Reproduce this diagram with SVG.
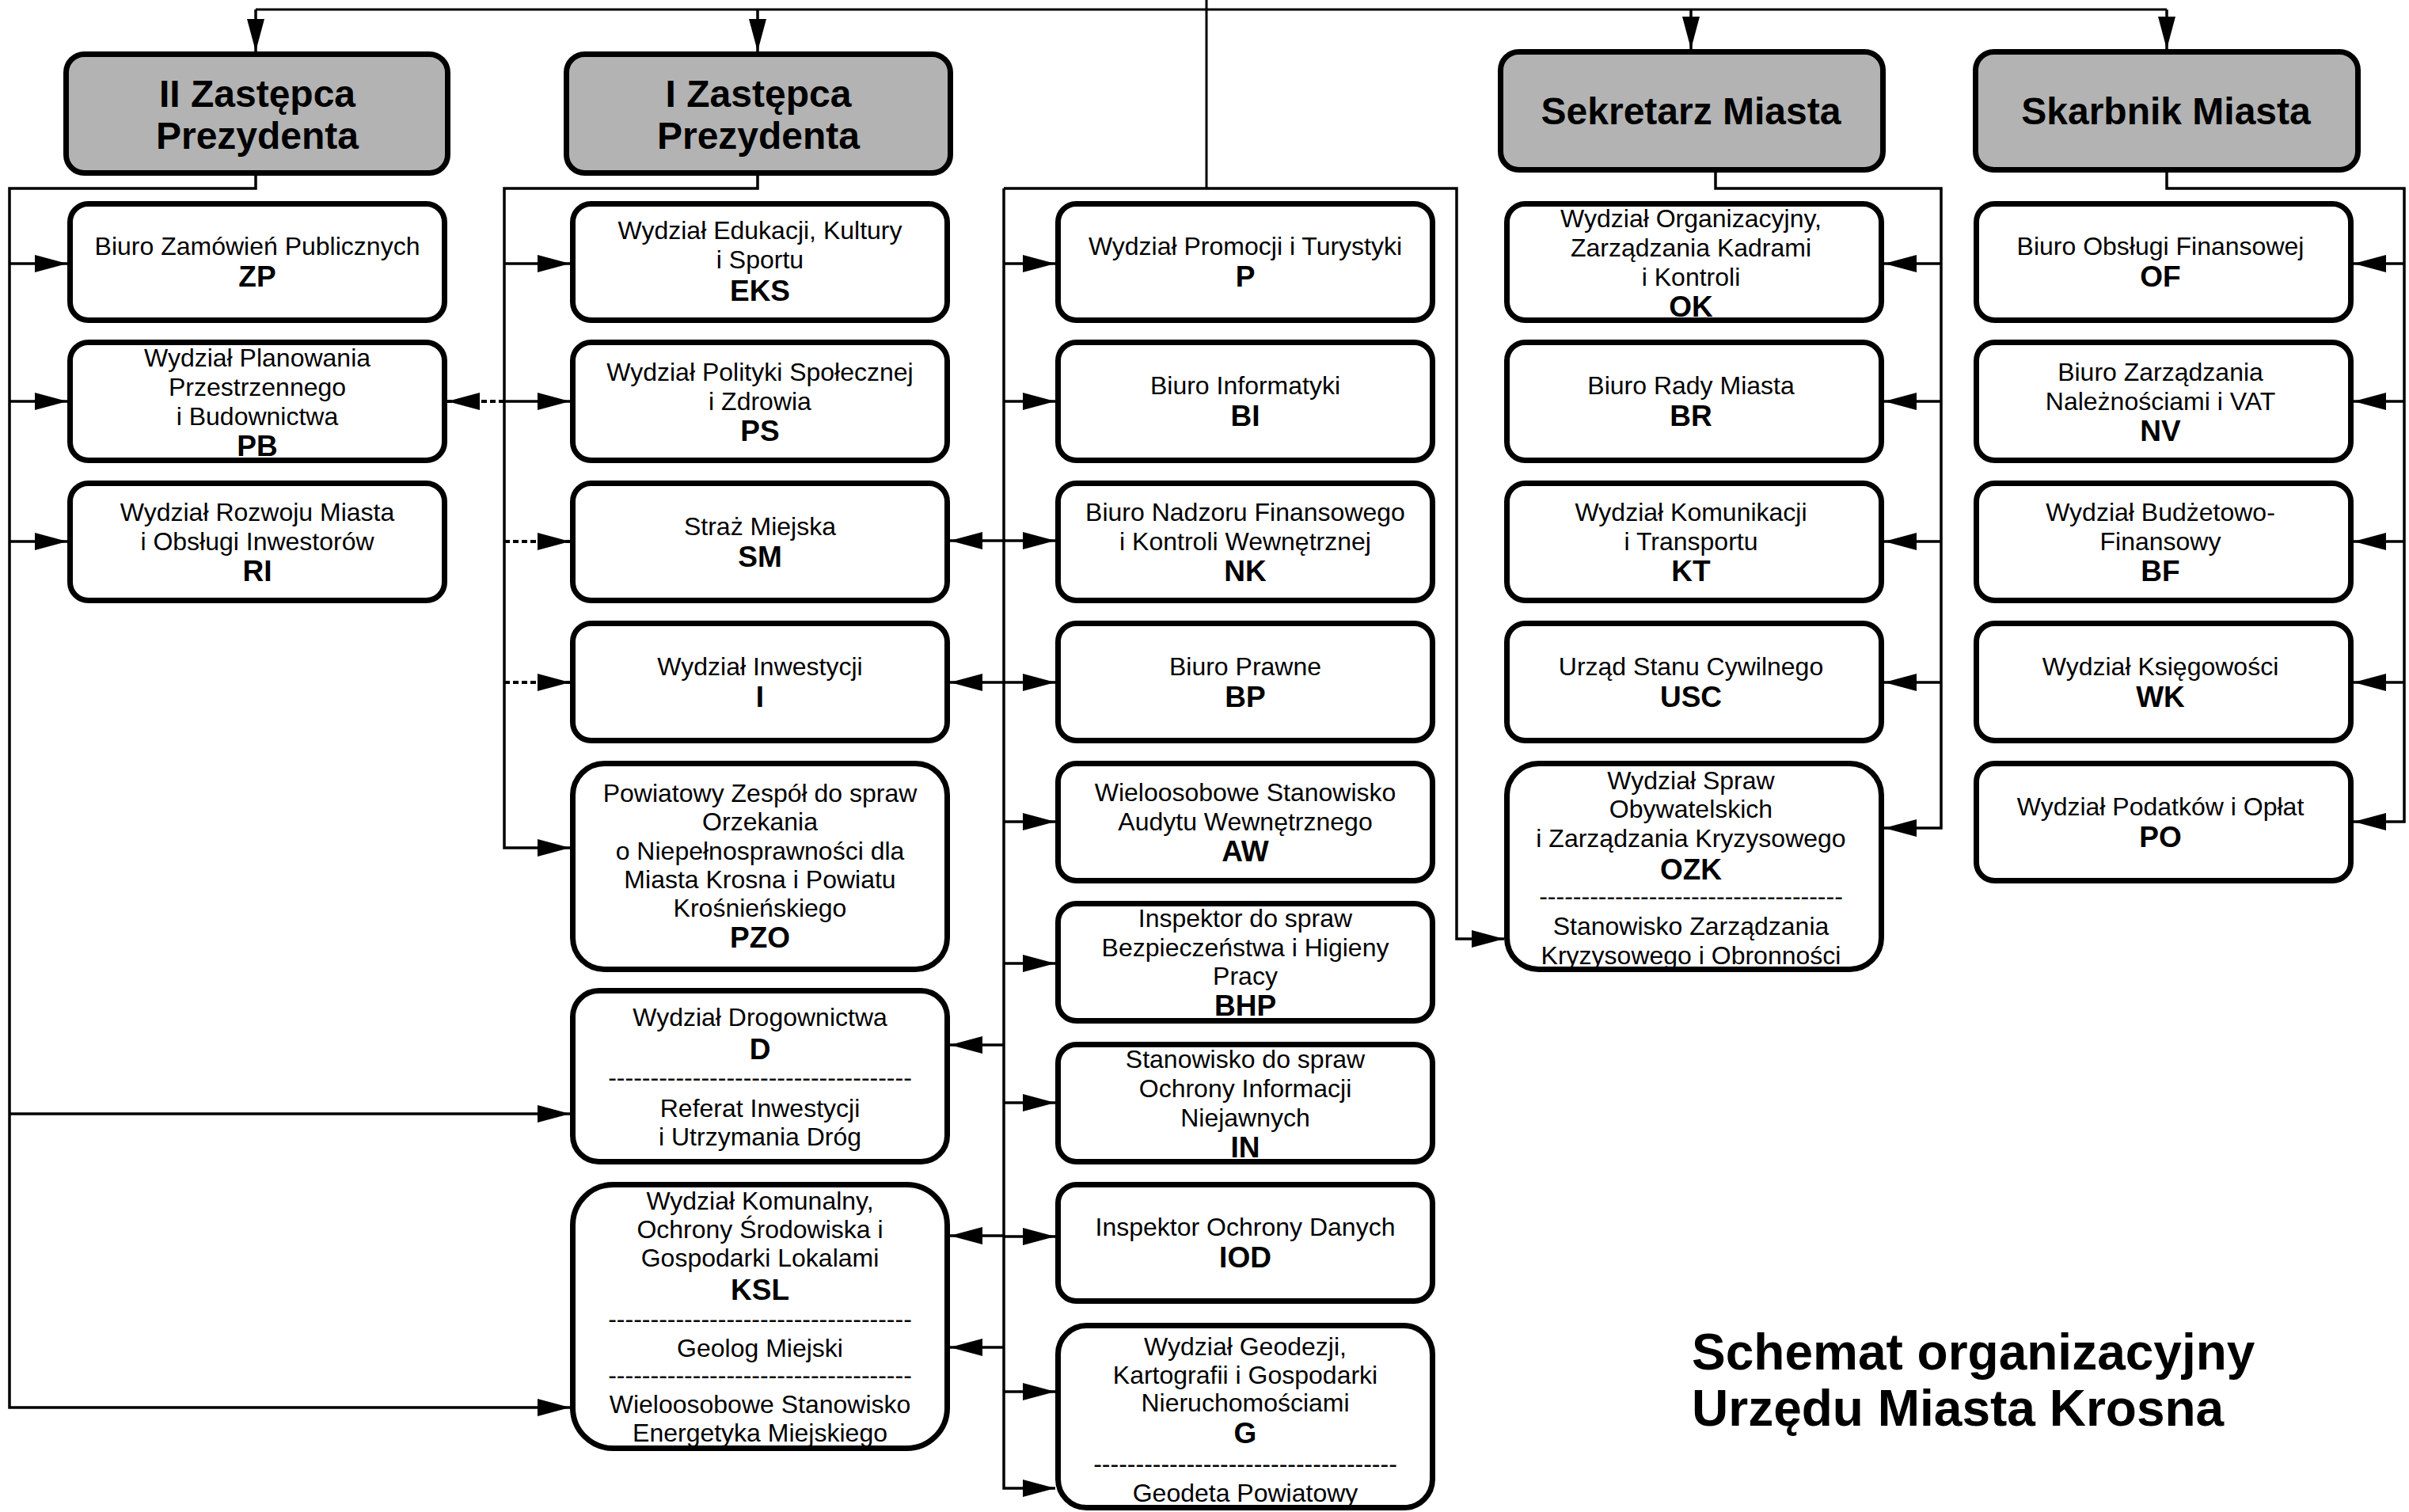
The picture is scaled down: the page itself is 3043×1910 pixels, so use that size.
<svg xmlns="http://www.w3.org/2000/svg" width="3043" height="1910" viewBox="0 0 3043 1910">
<defs>
<style>
.bx{fill:#fff;stroke:#000;stroke-width:7}
.hd{fill:#b3b3b3;stroke:#000;stroke-width:7}
.c{fill:none;stroke:#000;stroke-width:3}
.a{fill:none;stroke:#000;stroke-width:3.5;marker-end:url(#ah)}
.d{fill:none;stroke:#000;stroke-width:4;stroke-dasharray:7 4;marker-end:url(#ah)}
text{font-family:"Liberation Sans",Arial,sans-serif;fill:#000;text-anchor:middle}
.t{font-size:32px}
.b{font-size:37px;font-weight:bold}
.h{font-size:48px;font-weight:bold}
.ti{font-size:64px;font-weight:bold;text-anchor:start}
</style>
<marker id="ah" viewBox="0 0 41 22" refX="41" refY="11" markerWidth="41" markerHeight="22" markerUnits="userSpaceOnUse" orient="auto"><path d="M0,0 L41,11 L0,22 z" fill="#000"/></marker>
</defs>
<rect width="3043" height="1910" fill="#fff"/>

<g id="connectors">
<path class="c" d="M323,12 H2737"/>
<path class="a" d="M323,12 V65"/>
<path class="a" d="M957,12 V65"/>
<path class="a" d="M2136,12 V62"/>
<path class="a" d="M2737,12 V62"/>
<path class="c" d="M1524,0 V238"/>
<!-- II Zastepca -->
<path class="a" d="M323,222 V238 H12 V1778 H720"/>
<path class="a" d="M12,333 H85"/>
<path class="a" d="M12,507 H85"/>
<path class="a" d="M12,684 H85"/>
<path class="a" d="M12,1407 H720"/>
<!-- I Zastepca -->
<path class="a" d="M957,222 V238 H637 V1071 H720"/>
<path class="a" d="M637,333 H720"/>
<path class="a" d="M637,507 H720"/>
<path class="d" d="M637,507 H565"/>
<path class="d" d="M637,684 H720"/>
<path class="d" d="M637,862 H720"/>
<!-- middle -->
<path class="a" d="M1268,238 H1840 V1186 H1900"/>
<path class="a" d="M1268,238 V1880 H1333"/>
<path class="a" d="M1268,333 H1333"/>
<path class="a" d="M1268,507 H1333"/>
<path class="a" d="M1268,683 H1333"/>
<path class="a" d="M1268,862 H1333"/>
<path class="a" d="M1268,1038 H1333"/>
<path class="a" d="M1268,1217 H1333"/>
<path class="a" d="M1268,1393 H1333"/>
<path class="a" d="M1268,1562 H1333"/>
<path class="a" d="M1268,1758 H1333"/>
<path class="a" d="M1268,683 H1200"/>
<path class="a" d="M1268,862 H1200"/>
<path class="a" d="M1268,1320 H1200"/>
<path class="a" d="M1268,1561 H1200"/>
<path class="a" d="M1268,1702 H1200"/>
<!-- Sekretarz -->
<path class="a" d="M2167,218 V238 H2452 V1046 H2380"/>
<path class="a" d="M2452,333 H2380"/>
<path class="a" d="M2452,507 H2380"/>
<path class="a" d="M2452,684 H2380"/>
<path class="a" d="M2452,862 H2380"/>
<!-- Skarbnik -->
<path class="a" d="M2737,218 V238 H3037 V1038 H2973"/>
<path class="a" d="M3037,333 H2973"/>
<path class="a" d="M3037,507 H2973"/>
<path class="a" d="M3037,684 H2973"/>
<path class="a" d="M3037,862 H2973"/>
</g>

<g id="n-II"><rect class="hd" x="83.5" y="68.5" width="482" height="150" rx="23"/><text class="h" x="325" y="135">II Zastępca</text><text class="h" x="325" y="188">Prezydenta</text></g>
<g id="n-I"><rect class="hd" x="715.5" y="68.5" width="485" height="150" rx="23"/><text class="h" x="958" y="135">I Zastępca</text><text class="h" x="958" y="188">Prezydenta</text></g>
<g id="n-SEK"><rect class="hd" x="1895.5" y="65.5" width="483" height="149" rx="23"/><text class="h" x="2136" y="157">Sekretarz Miasta</text></g>
<g id="n-SKA"><rect class="hd" x="2495.5" y="65.5" width="483" height="149" rx="23"/><text class="h" x="2736" y="157">Skarbnik Miasta</text></g>

<!-- Column A -->
<g id="n-ZP"><rect class="bx" x="88.5" y="257.5" width="473" height="147" rx="23"/><text class="t" x="325" y="322">Biuro Zamówień Publicznych</text><text class="b" x="325" y="362">ZP</text></g>
<g id="n-PB"><rect class="bx" x="88.5" y="432.5" width="473" height="149" rx="23"/><text class="t" x="325" y="463">Wydział Planowania</text><text class="t" x="325" y="500">Przestrzennego</text><text class="t" x="325" y="537">i Budownictwa</text><text class="b" x="325" y="576">PB</text></g>
<g id="n-RI"><rect class="bx" x="88.5" y="610.5" width="473" height="148" rx="23"/><text class="t" x="325" y="658">Wydział Rozwoju Miasta</text><text class="t" x="325" y="695">i Obsługi Inwestorów</text><text class="b" x="325" y="734">RI</text></g>

<!-- Column B -->
<g id="n-EKS"><rect class="bx" x="723.5" y="257.5" width="473" height="147" rx="23"/><text class="t" x="960" y="302">Wydział Edukacji, Kultury</text><text class="t" x="960" y="339">i Sportu</text><text class="b" x="960" y="380">EKS</text></g>
<g id="n-PS"><rect class="bx" x="723.5" y="432.5" width="473" height="149" rx="23"/><text class="t" x="960" y="481">Wydział Polityki Społecznej</text><text class="t" x="960" y="518">i Zdrowia</text><text class="b" x="960" y="557">PS</text></g>
<g id="n-SM"><rect class="bx" x="723.5" y="610.5" width="473" height="148" rx="23"/><text class="t" x="960" y="676">Straż Miejska</text><text class="b" x="960" y="716">SM</text></g>
<g id="n-INW"><rect class="bx" x="723.5" y="787.5" width="473" height="148" rx="23"/><text class="t" x="960" y="853">Wydział Inwestycji</text><text class="b" x="960" y="893">I</text></g>
<g id="n-PZO"><rect class="bx" x="723.5" y="964.5" width="473" height="260" rx="40"/><text class="t" x="960" y="1013">Powiatowy Zespół do spraw</text><text class="t" x="960" y="1049">Orzekania</text><text class="t" x="960" y="1086">o Niepełnosprawności dla</text><text class="t" x="960" y="1122">Miasta Krosna i Powiatu</text><text class="t" x="960" y="1158">Krośnieńskiego</text><text class="b" x="960" y="1197">PZO</text></g>
<g id="n-D"><rect class="bx" x="723.5" y="1251.5" width="473" height="216" rx="33"/><text class="t" x="960" y="1296">Wydział Drogownictwa</text><text class="b" x="960" y="1338">D</text><text class="t" x="960" y="1372">------------------------------------</text><text class="t" x="960" y="1411">Referat Inwestycji</text><text class="t" x="960" y="1447">i Utrzymania Dróg</text></g>
<g id="n-KSL"><rect class="bx" x="723.5" y="1496.5" width="473" height="333" rx="51"/><text class="t" x="960" y="1528">Wydział Komunalny,</text><text class="t" x="960" y="1564">Ochrony Środowiska i</text><text class="t" x="960" y="1600">Gospodarki Lokalami</text><text class="b" x="960" y="1642">KSL</text><text class="t" x="960" y="1677">------------------------------------</text><text class="t" x="960" y="1714">Geolog Miejski</text><text class="t" x="960" y="1748">------------------------------------</text><text class="t" x="960" y="1785">Wieloosobowe Stanowisko</text><text class="t" x="960" y="1821">Energetyka Miejskiego</text></g>

<!-- Column C -->
<g id="n-P"><rect class="bx" x="1336.5" y="257.5" width="473" height="147" rx="23"/><text class="t" x="1573" y="322">Wydział Promocji i Turystyki</text><text class="b" x="1573" y="362">P</text></g>
<g id="n-BI"><rect class="bx" x="1336.5" y="432.5" width="473" height="149" rx="23"/><text class="t" x="1573" y="498">Biuro Informatyki</text><text class="b" x="1573" y="538">BI</text></g>
<g id="n-NK"><rect class="bx" x="1336.5" y="610.5" width="473" height="148" rx="23"/><text class="t" x="1573" y="658">Biuro Nadzoru Finansowego</text><text class="t" x="1573" y="695">i Kontroli Wewnętrznej</text><text class="b" x="1573" y="734">NK</text></g>
<g id="n-BP"><rect class="bx" x="1336.5" y="787.5" width="473" height="148" rx="23"/><text class="t" x="1573" y="853">Biuro Prawne</text><text class="b" x="1573" y="893">BP</text></g>
<g id="n-AW"><rect class="bx" x="1336.5" y="964.5" width="473" height="148" rx="23"/><text class="t" x="1573" y="1012">Wieloosobowe Stanowisko</text><text class="t" x="1573" y="1049">Audytu Wewnętrznego</text><text class="b" x="1573" y="1088">AW</text></g>
<g id="n-BHP"><rect class="bx" x="1336.5" y="1141.5" width="473" height="148" rx="23"/><text class="t" x="1573" y="1171">Inspektor do spraw</text><text class="t" x="1573" y="1208">Bezpieczeństwa i Higieny</text><text class="t" x="1573" y="1244">Pracy</text><text class="b" x="1573" y="1283">BHP</text></g>
<g id="n-IN"><rect class="bx" x="1336.5" y="1319.5" width="473" height="148" rx="23"/><text class="t" x="1573" y="1349">Stanowisko do spraw</text><text class="t" x="1573" y="1386">Ochrony Informacji</text><text class="t" x="1573" y="1423">Niejawnych</text><text class="b" x="1573" y="1462">IN</text></g>
<g id="n-IOD"><rect class="bx" x="1336.5" y="1496.5" width="473" height="147" rx="23"/><text class="t" x="1573" y="1561">Inspektor Ochrony Danych</text><text class="b" x="1573" y="1601">IOD</text></g>
<g id="n-G"><rect class="bx" x="1336.5" y="1674.5" width="473" height="230" rx="36"/><text class="t" x="1573" y="1712">Wydział Geodezji,</text><text class="t" x="1573" y="1748">Kartografii i Gospodarki</text><text class="t" x="1573" y="1783">Nieruchomościami</text><text class="b" x="1573" y="1823">G</text><text class="t" x="1573" y="1860">------------------------------------</text><text class="t" x="1573" y="1897">Geodeta Powiatowy</text></g>

<!-- Column D -->
<g id="n-OK"><rect class="bx" x="1903.5" y="257.5" width="473" height="147" rx="23"/><text class="t" x="2136" y="287">Wydział Organizacyjny,</text><text class="t" x="2136" y="324">Zarządzania Kadrami</text><text class="t" x="2136" y="361">i Kontroli</text><text class="b" x="2136" y="400">OK</text></g>
<g id="n-BR"><rect class="bx" x="1903.5" y="432.5" width="473" height="149" rx="23"/><text class="t" x="2136" y="498">Biuro Rady Miasta</text><text class="b" x="2136" y="538">BR</text></g>
<g id="n-KT"><rect class="bx" x="1903.5" y="610.5" width="473" height="148" rx="23"/><text class="t" x="2136" y="658">Wydział Komunikacji</text><text class="t" x="2136" y="695">i Transportu</text><text class="b" x="2136" y="734">KT</text></g>
<g id="n-USC"><rect class="bx" x="1903.5" y="787.5" width="473" height="148" rx="23"/><text class="t" x="2136" y="853">Urząd Stanu Cywilnego</text><text class="b" x="2136" y="893">USC</text></g>
<g id="n-OZK"><rect class="bx" x="1903.5" y="964.5" width="473" height="260" rx="40"/><text class="t" x="2136" y="997">Wydział Spraw</text><text class="t" x="2136" y="1033">Obywatelskich</text><text class="t" x="2136" y="1070">i Zarządzania Kryzysowego</text><text class="b" x="2136" y="1111">OZK</text><text class="t" x="2136" y="1143">------------------------------------</text><text class="t" x="2136" y="1181">Stanowisko Zarządzania</text><text class="t" x="2136" y="1218">Kryzysowego i Obronności</text></g>

<!-- Column E -->
<g id="n-OF"><rect class="bx" x="2496.5" y="257.5" width="473" height="147" rx="23"/><text class="t" x="2729" y="322">Biuro Obsługi Finansowej</text><text class="b" x="2729" y="362">OF</text></g>
<g id="n-NV"><rect class="bx" x="2496.5" y="432.5" width="473" height="149" rx="23"/><text class="t" x="2729" y="481">Biuro Zarządzania</text><text class="t" x="2729" y="518">Należnościami i VAT</text><text class="b" x="2729" y="557">NV</text></g>
<g id="n-BF"><rect class="bx" x="2496.5" y="610.5" width="473" height="148" rx="23"/><text class="t" x="2729" y="658">Wydział Budżetowo-</text><text class="t" x="2729" y="695">Finansowy</text><text class="b" x="2729" y="734">BF</text></g>
<g id="n-WK"><rect class="bx" x="2496.5" y="787.5" width="473" height="148" rx="23"/><text class="t" x="2729" y="853">Wydział Księgowości</text><text class="b" x="2729" y="893">WK</text></g>
<g id="n-PO"><rect class="bx" x="2496.5" y="964.5" width="473" height="148" rx="23"/><text class="t" x="2729" y="1030">Wydział Podatków i Opłat</text><text class="b" x="2729" y="1070">PO</text></g>

<g id="title"><text class="ti" x="2137" y="1730">Schemat organizacyjny</text><text class="ti" x="2137" y="1801">Urzędu Miasta Krosna</text></g>
</svg>
